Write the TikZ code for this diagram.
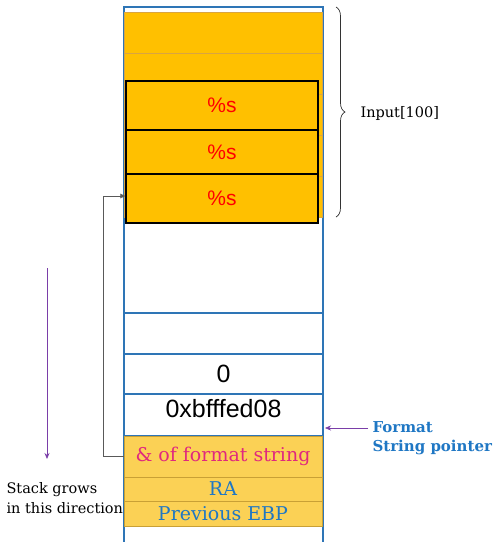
\documentclass[tikz,border=0pt]{standalone}
\usepackage{fontspec}
\setmainfont{DejaVu Serif}
\newfontfamily\cellsans{Liberation Sans}
\usetikzlibrary{arrows.meta,decorations.pathreplacing}
\definecolor{stackblue}{HTML}{2E75B6}
\definecolor{inputorange}{HTML}{FFC000}
\definecolor{inputedge}{HTML}{D9A441}
\definecolor{framefill}{HTML}{FBD155}
\definecolor{frameedge}{HTML}{C9A035}
\definecolor{labelblue}{HTML}{1F77C4}
\definecolor{labelpink}{HTML}{E0287E}
\definecolor{arrowpurple}{HTML}{7A3EA8}
\begin{document}
\begin{tikzpicture}[x=1pt, y=-1pt,
  inputcell/.style={draw=inputedge, fill=inputorange, minimum width=198, minimum height=41, inner sep=0},
  fmtcell/.style={draw=black, line width=1.2pt, fill=inputorange, minimum width=192, inner sep=0, text=red, font=\cellsans\fontsize{21}{24}\selectfont},
  stackcell/.style={draw=stackblue, line width=1.1pt, minimum width=199, inner sep=0, font=\cellsans\fontsize{25}{28}\selectfont},
  framecell/.style={draw=frameedge, fill=framefill, minimum width=198, inner sep=0, text=labelblue, font=\fontsize{19}{22}\selectfont}]
\useasboundingbox (0,0) rectangle (494,542);
% outer stack frame
\draw[stackblue, line width=1.1pt] (124,542) |- (323,7) -- (323,542);
% input buffer
\foreach \i in {0,...,4}
  \node[inputcell] (in\i) at (223,{32.5+41*\i}) {};
\node[fmtcell, minimum height=49] (pct1) at (222,105.5) {\%s};
\node[fmtcell, minimum height=44] (pct2) at (222,152) {\%s};
\node[fmtcell, minimum height=49] (pct3) at (222,198.5) {\%s};
% lower stack cells
\node[stackcell, minimum height=41] (empty) at (223.5,333.5) {};
\node[stackcell, minimum height=40, text depth=-2pt] (zero) at (223.5,374) {0};
\node[stackcell, minimum height=42, text depth=14pt] (addr) at (223.5,415) {0xbfffed08};
\node[framecell, minimum height=41, text=labelpink] (fmtaddr) at (223,456.5) {\& of format string};
\node[framecell, minimum height=24] (ra) at (223,489) {RA};
\node[framecell, minimum height=25] (ebp) at (223,513.5) {Previous EBP};
% pointer back into the buffer
\draw[black!65, -{Latex[length=5pt,width=5pt]}] (fmtaddr.west) -- ++(-21,0) |- ([yshift=2.5]pct3.west);
% brace over input
\draw[black!80, line width=0.7pt, decorate, decoration={brace, amplitude=9pt}] (336,7) -- (336,217);
\node[anchor=west, font=\fontsize{14.5}{16}\selectfont] (inputlbl) at (357,113) {Input[100]};
% stack growth
\coordinate (growtop) at (47,268);
\coordinate (growend) at (47,459);
\draw[arrowpurple, line width=0.8pt, -{Stealth[length=6pt,width=5pt]}] (growtop) -- (growend);
\node[anchor=west, align=left, font=\fontsize{14.5}{20}\selectfont] (growlbl) at (3,498) {Stack grows\\in this direction};
% format string pointer
\node[anchor=west, align=left, text=labelblue, font=\bfseries\fontsize{15}{19}\selectfont] (fsp) at (369,438) {Format\\String pointer};
\coordinate (fsptail) at (368,428);
\coordinate (fsphead) at (325,428);
\draw[arrowpurple, -{Stealth[length=6pt,width=5pt]}] (fsptail) -- (fsphead);
\end{tikzpicture}
\end{document}
